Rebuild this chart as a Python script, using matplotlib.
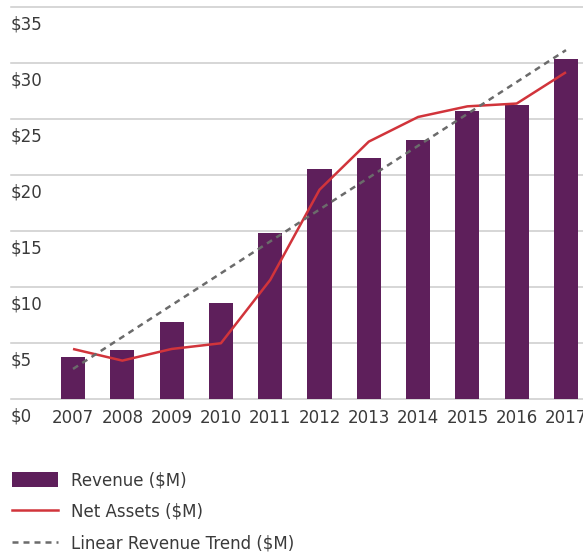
import matplotlib
matplotlib.use("Agg")
import matplotlib.pyplot as plt
import matplotlib.transforms as mtransforms
from matplotlib.patches import Patch
from matplotlib.lines import Line2D
import numpy as np

years = ["2007", "2008", "2009", "2010", "2011", "2012", "2013", "2014", "2015", "2016", "2017"]
revenue = [3.76, 4.38, 6.89, 8.59, 14.85, 20.57, 21.56, 23.17, 25.76, 26.3, 30.4]
net_assets = [4.47, 3.43, 4.47, 4.98, 10.64, 18.7, 23.0, 25.2, 26.15, 26.4, 29.2]
y_ticks = [0, 5, 10, 15, 20, 25, 30, 35]
y_labels = ["$0", "$5", "$10", "$15", "$20", "$25", "$30", "$35"]

BAR = "#5e1f5b"
RED = "#d1343b"
GRAY = "#6b6b6b"
TXT = "#3a3a3a"
GRID = "#cccccc"

plt.rcParams['font.family'] = ['DejaVu Sans']
FS = 12

W, H = 583, 553
fig = plt.figure(figsize=(W/100, H/100), dpi=100)
left_px, right_px, top_px, bot_px = 11, 583, 7.3, 399
ax = fig.add_axes([left_px/W, (H-bot_px)/H, (right_px-left_px)/W, (bot_px-top_px)/H])

x = np.arange(len(years))
ax.bar(x, revenue, width=0.49, color=BAR, zorder=2)
ax.plot(x, net_assets, color=RED, lw=1.8, zorder=3, solid_capstyle='butt')
coef = np.polyfit(x, revenue, 1)
trend = np.polyval(coef, x)
ax.plot(x, trend, color=GRAY, lw=1.8, dashes=(2.4, 2.0), dash_capstyle='butt', zorder=4)

ax.set_xlim(-1.258, 10.345)
ax.set_ylim(0, 35)
for s in ax.spines.values():
    s.set_visible(False)
for t in y_ticks:
    ax.axhline(t, color=GRID, lw=1.1, zorder=1, clip_on=False)
ax.set_yticks([])
ax.set_xticks(x)
ax.set_xticklabels(years, fontsize=FS, color=TXT)
ax.tick_params(axis='x', length=0, pad=7.5)

trans = mtransforms.blended_transform_factory(fig.transFigure, ax.transData)
for t, lab in zip(y_ticks, y_labels):
    ax.text(11/W, t, lab, transform=trans + mtransforms.ScaledTranslation(0, -6/72, fig.dpi_scale_trans),
            ha='left', va='top', fontsize=FS, color=TXT)

handles = [Patch(facecolor=BAR, edgecolor='none'),
           Line2D([], [], color=RED, lw=1.8),
           Line2D([], [], color=GRAY, lw=1.8, dashes=(2.4, 2.0))]
labels = ["Revenue ($M)", "Net Assets ($M)", "Linear Revenue Trend ($M)"]
fig.legend(handles, labels, loc='upper left', bbox_to_anchor=(12/W, (H-471)/H),
           frameon=False, fontsize=FS, labelcolor=TXT, handlelength=2.75, handleheight=1.05,
           handletextpad=0.8, labelspacing=0.82, borderpad=0, borderaxespad=0)

fig.savefig("out.png", dpi=100)
